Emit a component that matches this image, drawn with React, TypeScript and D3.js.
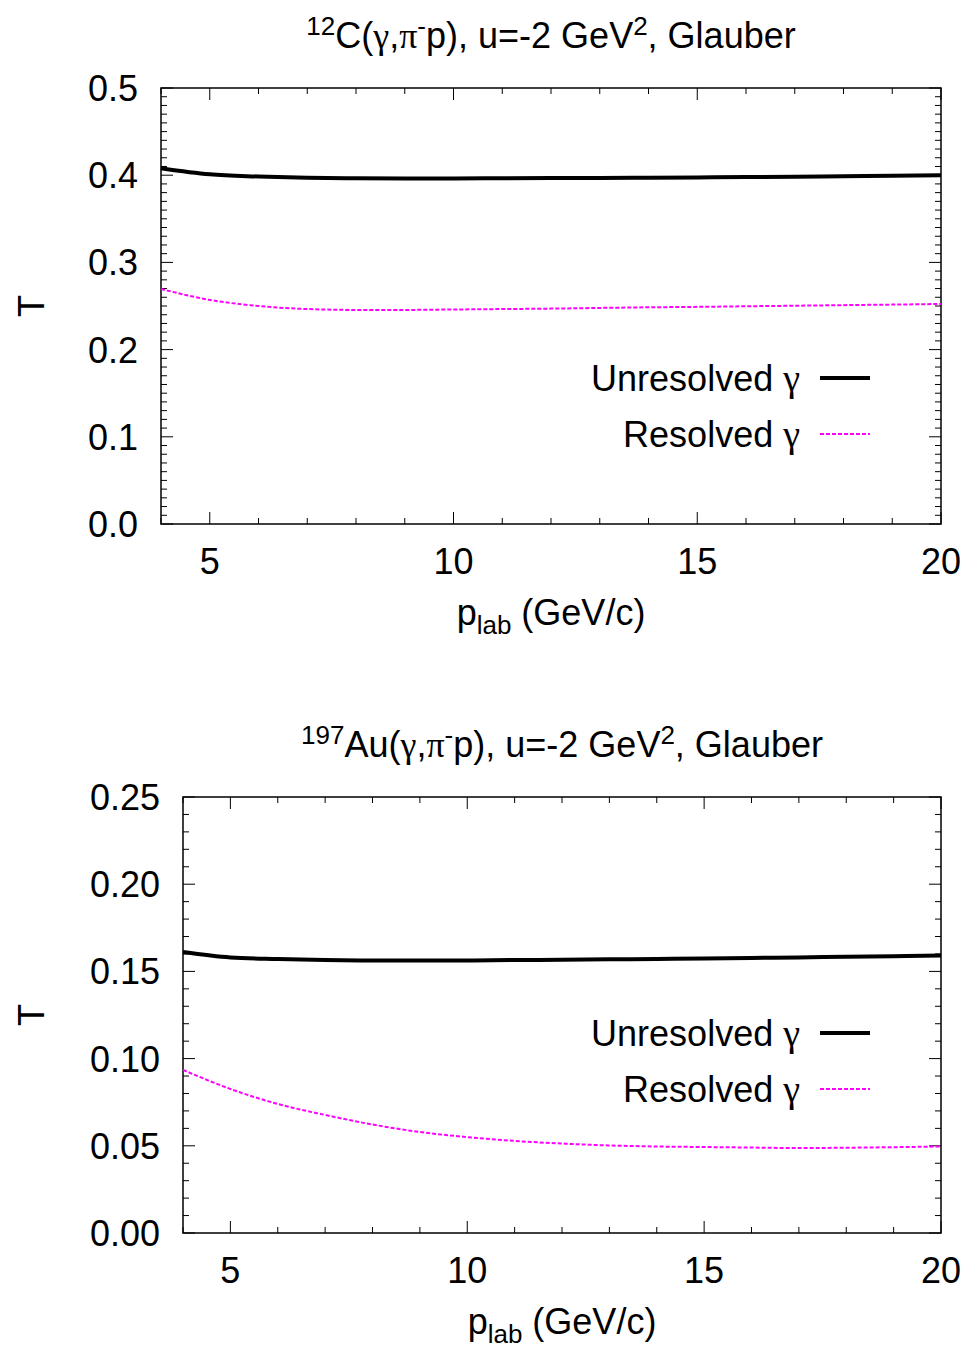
import * as d3 from 'd3'

// momentum grid (GeV/c)
const pLab = [4, 5, 6, 7, 8, 9, 10, 11, 12, 13, 14, 15, 16, 17, 18, 19, 20]

// 12C panel
const cUnresolved = [0.408, 0.401, 0.3985, 0.397, 0.3965, 0.3963, 0.3963, 0.3965, 0.3967, 0.3969, 0.3972, 0.3975, 0.3978, 0.3982, 0.3988, 0.3993, 0.400]
const cResolved = [0.2695, 0.257, 0.250, 0.2465, 0.2455, 0.2455, 0.246, 0.2465, 0.247, 0.2478, 0.2485, 0.249, 0.2497, 0.2503, 0.251, 0.2516, 0.2523]

// 197Au panel
const auUnresolved = [0.1611, 0.158, 0.1571, 0.1565, 0.1563, 0.1563, 0.1563, 0.1565, 0.1567, 0.1569, 0.1571, 0.1574, 0.1577, 0.158, 0.1584, 0.1587, 0.1591]
const auResolved = [0.0935, 0.0826, 0.074, 0.0677, 0.0622, 0.0579, 0.055, 0.0528, 0.0513, 0.0502, 0.0496, 0.0493, 0.049, 0.0487, 0.0489, 0.0492, 0.0496]

const xTicks = [5, 10, 15, 20]
const cYTicks = [0, 0.1, 0.2, 0.3, 0.4, 0.5]
const auYTicks = [0, 0.05, 0.1, 0.15, 0.2, 0.25]

const legendLabels = ['Unresolved', 'Resolved']

const FONT = '"Liberation Sans", Arial, sans-serif'
const GREEK = '"Liberation Serif", "DejaVu Serif", serif'
const FS = 36
const SUB = 26

type PanelProps = {
  top: number
  left: number
  right: number
  height: number
  yMax: number
  yTicks: number[]
  yFmt: (v: number) => string
  unresolved: number[]
  resolved: number[]
  nucleus: string
  mass: string
  legendY: number
}

function Panel(p: PanelProps) {
  const x = d3.scaleLinear().domain([4, 20]).range([p.left, p.right])
  const y = d3.scaleLinear().domain([0, p.yMax]).range([p.top + p.height, p.top])
  const bottom = p.top + p.height
  const line = d3.line<number>()
    .x((_, i) => x(pLab[i]))
    .y(d => y(d))
    .curve(d3.curveMonotoneX)

  const xMinor = d3.range(4, 21, 1)
  const yMinor = d3.range(0, p.yMax + 1e-9, 0.01)
  const cx = (p.left + p.right) / 2

  return (
    <g>
      {/* title */}
      <text x={cx} y={p.top - 40} textAnchor="middle" fontSize={FS} fontFamily={FONT}>
        <tspan fontSize={SUB} dy={-13}>{p.mass}</tspan>
        <tspan dy={13}>{p.nucleus}(</tspan>
        <tspan fontFamily={GREEK}>γ</tspan>
        <tspan>,</tspan>
        <tspan fontFamily={GREEK}>π</tspan>
        <tspan fontSize={SUB} dy={-13}>-</tspan>
        <tspan dy={13}>p), u=-2 GeV</tspan>
        <tspan fontSize={SUB} dy={-13}>2</tspan>
        <tspan dy={13}>, Glauber</tspan>
      </text>

      {/* minor ticks */}
      {xMinor.map(v => (
        <g key={'xm' + v} stroke="#000" strokeWidth={1}>
          <line x1={x(v)} x2={x(v)} y1={bottom} y2={bottom - (v % 5 === 0 ? 12 : 6)} />
          <line x1={x(v)} x2={x(v)} y1={p.top} y2={p.top + (v % 5 === 0 ? 12 : 6)} />
        </g>
      ))}
      {yMinor.map((v, i) => {
        const major = p.yTicks.some(t => Math.abs(t - v) < 1e-6)
        const len = major ? 12 : 6
        return (
          <g key={'ym' + i} stroke="#000" strokeWidth={1}>
            <line x1={p.left} x2={p.left + len} y1={y(v)} y2={y(v)} />
            <line x1={p.right} x2={p.right - len} y1={y(v)} y2={y(v)} />
          </g>
        )
      })}

      {/* frame */}
      <rect x={p.left} y={p.top} width={p.right - p.left} height={p.height} fill="none" stroke="#000" strokeWidth={1.5} />

      {/* tick labels */}
      {xTicks.map(v => (
        <text key={'xl' + v} x={x(v)} y={bottom + 50} textAnchor="middle" fontSize={FS} fontFamily={FONT}>{v}</text>
      ))}
      {p.yTicks.map(v => (
        <text key={'yl' + v} x={p.left - 23} y={y(v) + 13} textAnchor="end" fontSize={FS} fontFamily={FONT}>{p.yFmt(v)}</text>
      ))}

      {/* axis titles */}
      <text x={cx} y={bottom + 101} textAnchor="middle" fontSize={FS} fontFamily={FONT}>
        p<tspan fontSize={SUB} dy={9}>lab</tspan><tspan dy={-9}> (GeV/c)</tspan>
      </text>
      <text transform={`translate(44,${p.top + p.height / 2}) rotate(-90)`} textAnchor="middle" fontSize={FS} fontFamily={FONT}>T</text>

      {/* curves */}
      <path d={line(p.unresolved) ?? ''} fill="none" stroke="#000" strokeWidth={4} />
      <path d={line(p.resolved) ?? ''} fill="none" stroke="#ff00ff" strokeWidth={2} strokeDasharray="4,2" />

      {/* legend */}
      {legendLabels.map((lab, i) => (
        <g key={lab}>
          <text x={800} y={p.legendY + i * 56 + 13} textAnchor="end" fontSize={FS} fontFamily={FONT}>
            {lab} <tspan fontFamily={GREEK} fontSize={38}>γ</tspan>
          </text>
          <line x1={820} x2={870} y1={p.legendY + i * 56} y2={p.legendY + i * 56}
            stroke={i === 0 ? '#000' : '#ff00ff'} strokeWidth={i === 0 ? 4 : 2} strokeDasharray={i === 0 ? undefined : '4,2'} />
        </g>
      ))}
    </g>
  )
}

export default function App() {
  return (
    <svg width={968} height={1353} style={{ position: 'absolute', left: 0, top: 0, background: '#fff' }}>
      <rect width={968} height={1353} fill="#fff" />
      <Panel top={88} left={161} right={941} height={436} yMax={0.5} yTicks={cYTicks} yFmt={d3.format('.1f')}
        unresolved={cUnresolved} resolved={cResolved} nucleus="C" mass="12" legendY={378} />
      <Panel top={797} left={183} right={941} height={436} yMax={0.25} yTicks={auYTicks} yFmt={d3.format('.2f')}
        unresolved={auUnresolved} resolved={auResolved} nucleus="Au" mass="197" legendY={1033} />
    </svg>
  )
}
